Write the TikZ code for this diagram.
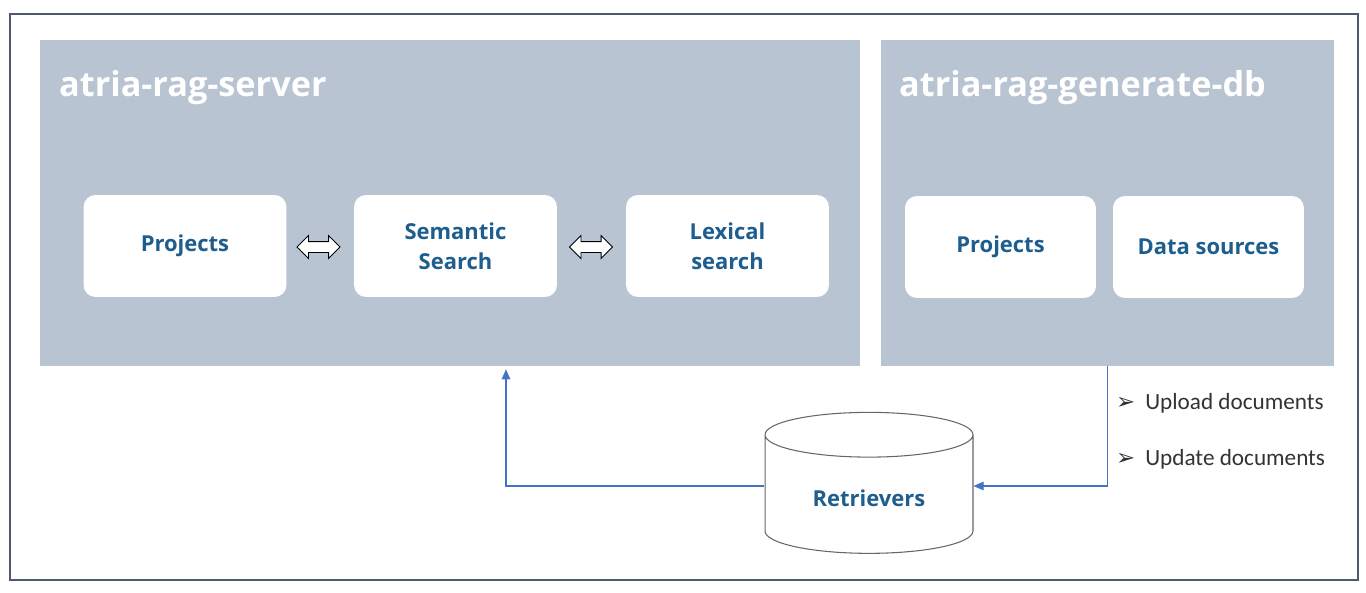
\documentclass[tikz,border=0pt]{standalone}
\usepackage{fontspec}
\setmainfont{Open Sans}
\newfontfamily\bulletfont{Carlito}
\newfontfamily\symfont{DejaVu Sans}
\usetikzlibrary{shapes.geometric,shapes.arrows,arrows.meta}
\definecolor{panelgray}{HTML}{B8C4D2}
\definecolor{boxtext}{HTML}{1D5E8E}
\definecolor{framecol}{HTML}{4D5A70}
\definecolor{linkblue}{HTML}{8AA2D6}
\definecolor{tipblue}{HTML}{4472C4}
\newcommand{\bulletarr}{{\symfont\fontsize{13}{15}\selectfont ➢}\hspace{0.2cm}}
\begin{document}
\begin{tikzpicture}[
  x=0.02cm, y=-0.02cm,
  panel/.style={fill=panelgray, draw=none, minimum height=6.52cm},
  paneltitle/.style={anchor=west, text=white, font=\fontsize{19.5}{22}\selectfont\bfseries},
  module/.style={fill=white, rounded corners=0.24cm, minimum width=4.06cm, minimum height=2.04cm,
    align=center, text=boxtext, font=\fontsize{12.5}{17}\selectfont\bfseries},
  swap/.style={double arrow, draw=black, fill=white, line width=0.5pt, inner sep=0.1cm,
    minimum height=0.86cm, double arrow head extend=0.12cm},
  link/.style={draw=linkblue, line width=0.6pt},
  bullet/.style={anchor=west, text=black!80, font=\bulletfont\fontsize{13.2}{16}\selectfont}
]
\useasboundingbox (0,0) rectangle (1366,592);
\draw[framecol, line width=0.6pt] (10,14) rectangle (1358,580);

\node[panel, minimum width=16.4cm] (srv) at (450,203) {};
\node[panel, minimum width=9.06cm] (gen) at (1107.5,203) {};
\node[paneltitle] (srvtitle) at (53,88) {atria-rag-server};
\node[paneltitle] (gentitle) at (893,88) {atria-rag-generate-db};

\node[module] (srvprj) at (185,246) {Projects};
\node[module] (sem) at (455.5,246) {Semantic\\Search};
\node[module] (lex) at (727.5,246) {Lexical\\search};
\node[module, minimum width=3.82cm] (genprj) at (1000.5,247) {Projects};
\node[module, minimum width=3.82cm] (dsrc) at (1208.5,247) {Data sources};

\node[swap] (swapa) at (318.5,247) {};
\node[swap] (swapb) at (591,247) {};

\node[cylinder, shape border rotate=90, draw=black!60, line width=0.6pt, aspect=0.36,
  minimum width=4.16cm, minimum height=2.82cm, text=boxtext,
  font=\fontsize{12.5}{15}\selectfont\bfseries] (ret) at (869,498) {Retrievers};

\draw[link, -{Triangle[length=0.2cm,width=0.17cm]}, tipblue, shorten >=0.06cm]
  ([yshift=0.24cm]ret.west) -| ([xshift=1.12cm]srv.south);
\draw[link, -{Triangle[length=0.2cm,width=0.17cm]}, tipblue]
  (gen.south) |- ([yshift=0.24cm]ret.east);

\node[bullet] (upload) at (1110,403) {\bulletarr Upload documents};
\node[bullet] (update) at (1110,459) {\bulletarr Update documents};
\end{tikzpicture}
\end{document}
